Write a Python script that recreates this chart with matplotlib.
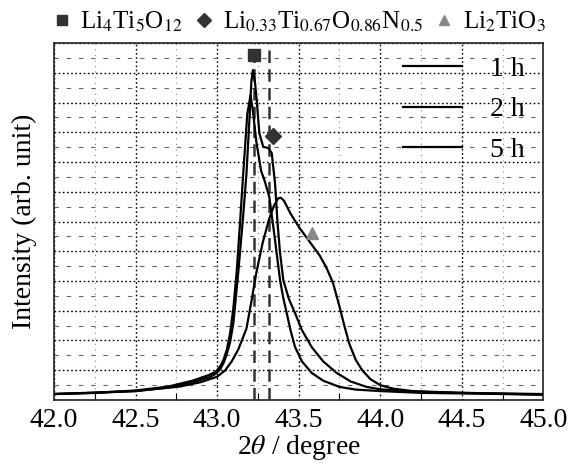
import matplotlib

matplotlib.use("Agg")
import matplotlib.pyplot as plt
from matplotlib.lines import Line2D

plt.rcParams.update({
    "font.family": ["Liberation Serif", "DejaVu Serif"],
    "mathtext.fontset": "stix",
    "font.size": 20,
})

# 1 h (tallest peak, shoulder near 43.3)
x_1h = [42.0, 42.25, 42.5, 42.7, 42.85, 42.95, 42.98, 43.0, 43.02, 43.04, 43.06, 43.08, 43.10,
        43.13, 43.16, 43.18, 43.20, 43.21, 43.22, 43.232, 43.243, 43.259, 43.283, 43.314, 43.335,
        43.355, 43.37, 43.385, 43.406, 43.44, 43.478, 43.52, 43.58, 43.65, 43.733, 43.82, 43.917,
        44.0, 44.2, 44.5, 44.75, 45.0]
y_1h = [0.2, 0.25, 0.3, 0.42, 0.6, 0.76, 0.84, 0.92, 1.04, 1.25, 1.55, 1.95, 2.6,
        4.3, 6.2, 7.6, 9.6, 10.7, 11.09, 10.7, 10.08, 8.97, 8.51, 8.47, 8.3,
        7.3, 6.0, 5.0, 4.03, 3.4, 2.92, 2.35, 1.78, 1.3, 0.91, 0.62, 0.44,
        0.36, 0.28, 0.24, 0.22, 0.2]

# 2 h
x_2h = [42.0, 42.25, 42.5, 42.7, 42.85, 42.95, 42.98, 43.0, 43.02, 43.04, 43.06, 43.08, 43.10,
        43.12, 43.14, 43.16, 43.185, 43.205, 43.22, 43.24, 43.27, 43.29, 43.32, 43.35, 43.386,
        43.405, 43.427, 43.45, 43.478, 43.52, 43.58, 43.65, 43.75, 43.85, 44.0, 44.25, 44.5,
        44.75, 45.0]
y_2h = [0.2, 0.24, 0.32, 0.45, 0.65, 0.84, 0.92, 1.0, 1.14, 1.36, 1.7, 2.25, 3.1,
        4.3, 5.9, 7.6, 9.6, 10.25, 9.7, 8.7, 7.7, 7.39, 6.83, 5.6, 4.03,
        3.45, 2.92, 2.35, 1.78, 1.3, 0.91, 0.65, 0.44, 0.35, 0.3, 0.24, 0.22,
        0.2, 0.18]

# 5 h (broad peak)
x_5h = [42.0, 42.25, 42.5, 42.77, 42.9, 43.0, 43.05, 43.09, 43.13, 43.18, 43.21, 43.24, 43.28,
        43.32, 43.35, 43.375, 43.39, 43.41, 43.447, 43.48, 43.51, 43.55, 43.59, 43.63, 43.67,
        43.71, 43.75, 43.78, 43.81, 43.85, 43.89, 43.94, 44.0, 44.08, 44.2, 44.5, 44.75, 45.0]
y_5h = [0.2, 0.24, 0.3, 0.45, 0.6, 0.78, 1.0, 1.3, 1.7, 2.4, 3.3, 4.26, 5.3,
        6.1, 6.55, 6.78, 6.8, 6.7, 6.3, 6.0, 5.75, 5.45, 5.15, 4.85, 4.45,
        3.95, 3.15, 2.5, 1.9, 1.35, 1.0, 0.7, 0.5, 0.38, 0.3, 0.24, 0.21, 0.18]

series = [("1 h", x_1h, y_1h), ("2 h", x_2h, y_2h), ("5 h", x_5h, y_5h)]

# reference phase positions (2theta, marker height)
phase_names = [r"Li$_4$Ti$_5$O$_{12}$", r"Li$_{0.33}$Ti$_{0.67}$O$_{0.86}$N$_{0.5}$", r"Li$_2$TiO$_3$"]
phase_x = [43.226, 43.345, 43.58]
phase_y = [11.6, 8.88, 5.61]
phase_marker = ["s", "D", "^"]
phase_color = ["#333333", "#333333", "#888888"]
ref_lines = [43.226, 43.32]

fig = plt.figure(figsize=(5.8, 4.65), dpi=100)
ax = fig.add_axes([0.0931, 0.1398, 0.8436, 0.7677])

for lab, xs, ys in series:
    ax.plot(xs, ys, color="black", linewidth=1.6, label=lab, zorder=4)

for xv in ref_lines:
    ax.axvline(xv, color="#333333", linewidth=1.8, linestyle=(0, (5, 2.5)), zorder=3)

for px, py, m, c in zip(phase_x, phase_y, phase_marker, phase_color):
    ax.plot([px], [py], marker=m, color=c, markersize=9 if m != "D" else 8,
            linestyle="none", zorder=5, clip_on=False)

ax.set_xlim(42.0, 45.0)
ax.set_ylim(0, 12)
ax.set_xticks([42.0, 42.5, 43.0, 43.5, 44.0, 44.5, 45.0])
ax.set_xticklabels(["42.0", "42.5", "43.0", "43.5", "44.0", "44.5", "45.0"])
ax.set_xticks([42.25, 42.75, 43.25, 43.75, 44.25, 44.75], minor=True)
ax.set_yticks(range(0, 13))
ax.set_yticks([i + 0.5 for i in range(12)], minor=True)
ax.tick_params(axis="y", which="both", length=0, labelleft=False)
ax.tick_params(axis="x", which="major", direction="in", length=0, pad=6)
ax.tick_params(axis="x", which="minor", direction="in", length=5, width=0.8)

ax.xaxis.grid(True, which="major", color="black", linestyle=(0, (1.2, 1.8)), linewidth=1.0)
ax.yaxis.grid(True, which="major", color="black", linestyle=(0, (1.2, 1.8)), linewidth=1.0)
ax.xaxis.grid(True, which="minor", color="#888888", linestyle=(0, (1, 4)), linewidth=0.8)
ax.yaxis.grid(True, which="minor", color="#666666", linestyle=(0, (4, 7)), linewidth=0.8)
ax.set_axisbelow(True)
for s in ax.spines.values():
    s.set_linewidth(1.2)
    s.set_color("#222222")

ax.set_xlabel(r"2$\theta$ / degree", labelpad=0)
ax.set_ylabel("Intensity (arb. unit)", labelpad=12)

ax.legend(loc="upper right", bbox_to_anchor=(0.995, 1.01), frameon=False, handlelength=2.1,
          handletextpad=1.0, labelspacing=0.55, borderaxespad=0.2, fontsize=20)

# phase key above the axes
handles = [Line2D([], [], marker=m, color=c, linestyle="none", markersize=7.5 if m != "D" else 7)
           for m, c in zip(phase_marker, phase_color)]
fig.legend(handles, phase_names, loc="upper center", bbox_to_anchor=(0.515, 1.005), ncol=3,
           frameon=False, handletextpad=0.35, columnspacing=0.45, handlelength=0.8, fontsize=18,
           borderaxespad=0.1)

fig.savefig("out.png", dpi=100)
